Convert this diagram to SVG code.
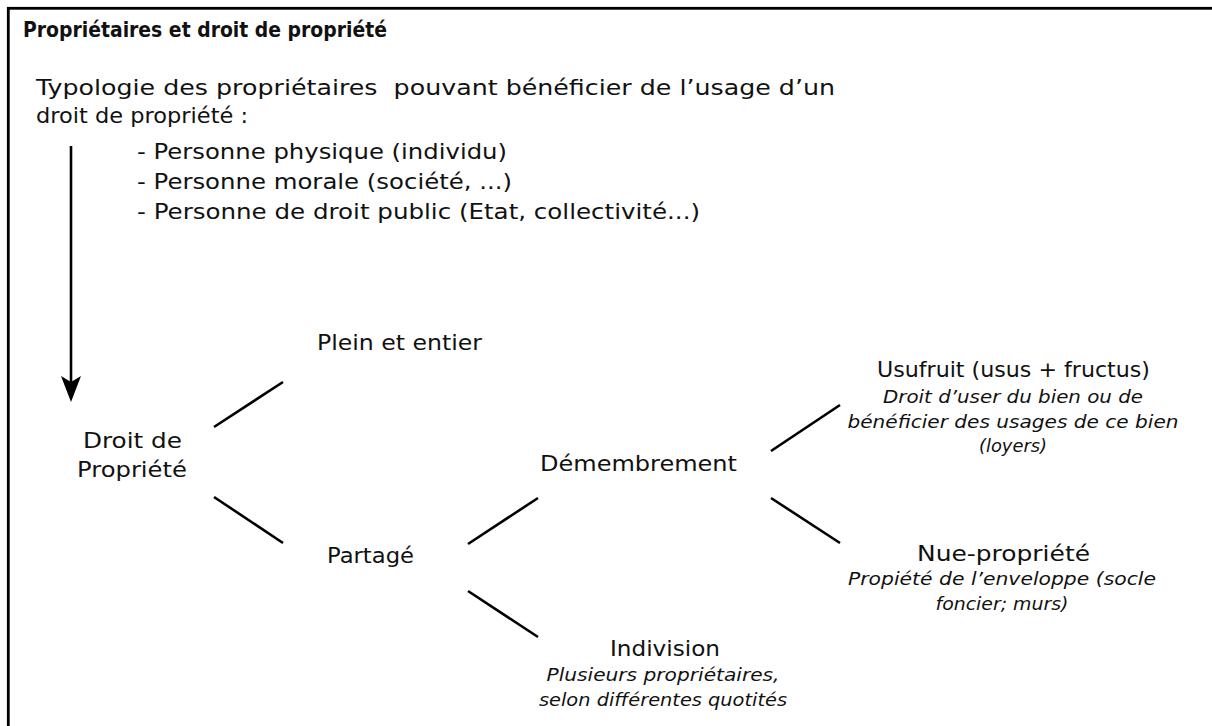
<svg xmlns="http://www.w3.org/2000/svg" width="1212" height="726" viewBox="0 0 1212 726">
<style>
text{font-family:"DejaVu Sans","Liberation Sans",sans-serif;fill:#111;white-space:pre}
.t{font-size:21px;font-weight:bold}
.n{font-size:22px}
.i{font-size:18px;font-style:italic}
.c{text-anchor:middle}
.ln{stroke:#000;stroke-width:2.6;fill:none}
</style>
<rect x="8.3" y="8.3" width="1400" height="900" fill="#fff" stroke="#000" stroke-width="2.8"/>
<g id="title"><text class="t" x="23" y="37" textLength="364" lengthAdjust="spacingAndGlyphs">Propriétaires et droit de propriété</text></g>
<g id="typologie">
<text class="n" x="36" y="95" textLength="799" lengthAdjust="spacingAndGlyphs">Typologie des propriétaires  pouvant bénéficier de l’usage d’un</text>
<text class="n" x="36" y="123" textLength="212" lengthAdjust="spacingAndGlyphs">droit de propriété :</text>
<text class="n" x="137" y="159" textLength="370" lengthAdjust="spacingAndGlyphs">- Personne physique (individu)</text>
<text class="n" x="137" y="189" textLength="375" lengthAdjust="spacingAndGlyphs">- Personne morale (société, ...)</text>
<text class="n" x="137" y="219" textLength="563" lengthAdjust="spacingAndGlyphs">- Personne de droit public (Etat, collectivité...)</text>
</g>
<g id="droit">
<text class="n" x="83" y="448" textLength="99" lengthAdjust="spacingAndGlyphs">Droit de</text>
<text class="n" x="77" y="477" textLength="110" lengthAdjust="spacingAndGlyphs">Propriété</text>
</g>
<g id="plein"><text class="n" x="317" y="350" textLength="165" lengthAdjust="spacingAndGlyphs">Plein et entier</text></g>
<g id="partage"><text class="n" x="327" y="563" textLength="87" lengthAdjust="spacingAndGlyphs">Partagé</text></g>
<g id="demembrement"><text class="n" x="540" y="471" textLength="197" lengthAdjust="spacingAndGlyphs">Démembrement</text></g>
<g id="usufruit">
<text class="n" x="877" y="377" textLength="273" lengthAdjust="spacingAndGlyphs">Usufruit (usus + fructus)</text>
<text class="i c" x="1013" y="403" textLength="260" lengthAdjust="spacingAndGlyphs">Droit d’user du bien ou de</text>
<text class="i c" x="1013" y="428" textLength="331" lengthAdjust="spacingAndGlyphs">bénéficier des usages de ce bien</text>
<text class="i c" x="1013" y="452" textLength="68" lengthAdjust="spacingAndGlyphs">(loyers)</text>
</g>
<g id="nue">
<text class="n" x="917" y="561" textLength="173" lengthAdjust="spacingAndGlyphs">Nue-propriété</text>
<text class="i c" x="1002" y="585" textLength="308" lengthAdjust="spacingAndGlyphs">Propiété de l’enveloppe (socle</text>
<text class="i c" x="1002" y="610" textLength="133" lengthAdjust="spacingAndGlyphs">foncier; murs)</text>
</g>
<g id="indivision">
<text class="n" x="610" y="656" textLength="110" lengthAdjust="spacingAndGlyphs">Indivision</text>
<text class="i c" x="663" y="681" textLength="233" lengthAdjust="spacingAndGlyphs">Plusieurs propriétaires,</text>
<text class="i c" x="663" y="706" textLength="248" lengthAdjust="spacingAndGlyphs">selon différentes quotités</text>
</g>
<g id="connectors">
<line class="ln" x1="71" y1="146" x2="71" y2="386" stroke-width="2.2"/>
<path d="M61,376 L71,402 L81,376 L71,382 Z" fill="#000"/>
<line class="ln" x1="214" y1="427" x2="283" y2="382"/>
<line class="ln" x1="214" y1="497" x2="283" y2="543"/>
<line class="ln" x1="468" y1="544" x2="538" y2="498"/>
<line class="ln" x1="468" y1="591" x2="538" y2="637"/>
<line class="ln" x1="771" y1="451" x2="840" y2="405"/>
<line class="ln" x1="771" y1="498" x2="840" y2="543"/>
</g>
</svg>
